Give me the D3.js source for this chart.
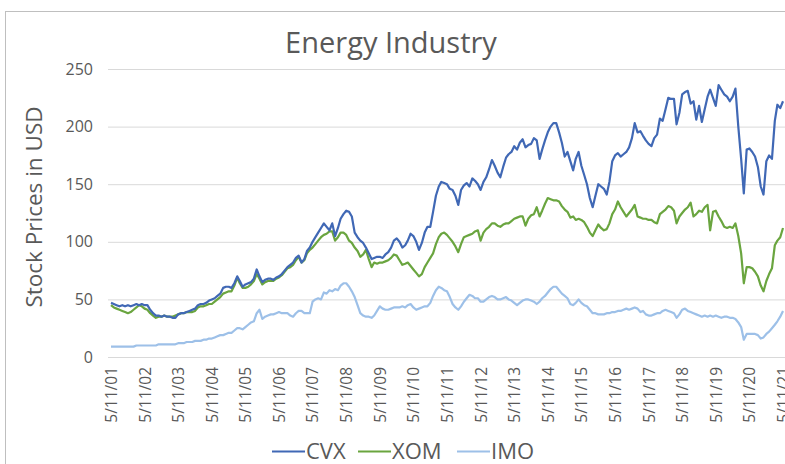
<!DOCTYPE html>
<html lang="en">
<head>
<meta charset="utf-8" />
<title>Energy Industry</title>
<style>
  body { margin: 0; background: #fff; }
  svg text { font-family: "Open Sans", "Noto Sans", sans-serif; fill: #595959; }
  .grid line { stroke: #d9d9d9; stroke-width: 1; }
  .grid path { display: none; }
</style>
<script src="https://cdn.jsdelivr.net/npm/d3@7"></script>
</head>
<body>
<script>
// monthly closes, May 2001 .. May 2021
var cvx = [
  47,46,45,44,45,44,45,44,45,46,45,46,
  45,45,41,38,36,36,35,36,35,35,34,34,
  37,38,38,39,40,41,42,45,46,46,47,49,
  50,51,53,55,60,61,61,60,64,70,66,61,
  63,64,65,68,76,70,65,67,68,68,67,69,
  70,72,75,78,80,82,86,88,82,85,92,95,
  100,104,108,112,116,113,110,116,105,112,120,124,
  127,126,122,108,104,101,99,95,90,85,86,87,
  87,86,89,91,95,101,103,100,95,97,101,107,
  105,100,93,99,108,113,113,126,140,148,152,151,
  150,146,145,140,132,145,149,151,148,155,153,150,
  145,152,156,163,171,166,160,156,165,173,176,178,
  183,180,186,189,182,184,185,190,188,172,180,188,
  195,200,203,203,195,186,174,178,170,162,172,178,
  166,158,150,138,130,140,150,148,146,141,152,170,
  175,177,174,176,178,182,190,203,195,196,192,188,
  185,183,190,193,207,205,215,225,224,224,202,212,
  228,230,231,220,222,206,218,204,215,226,232,225,
  218,236,232,228,226,222,226,233,200,172,142,180,
  181,178,174,165,148,141,170,175,172,205,219,216,222
];
var xom = [
  45,43,42,41,40,39,38,39,41,43,45,44,
  42,41,38,36,34,35,35,36,35,35,35,36,
  37,38,38,39,39,39,40,43,44,44,45,46,
  46,48,50,52,55,56,57,57,62,69,64,60,
  60,61,63,66,72,68,63,65,66,66,66,68,
  69,71,74,77,78,80,84,87,82,84,90,93,
  95,98,101,104,106,107,109,109,101,104,108,108,
  106,101,99,95,92,87,89,93,85,78,82,81,
  82,82,83,84,86,89,88,84,80,81,82,79,
  76,73,70,72,78,82,86,90,98,104,107,108,
  106,103,100,96,91,98,104,105,106,107,109,110,
  101,108,111,113,116,116,114,113,115,116,116,118,
  120,121,122,122,114,120,123,124,130,122,127,133,
  138,137,136,136,135,131,128,126,121,122,119,120,
  119,117,113,108,105,110,115,112,110,111,116,124,
  128,135,130,126,122,125,128,132,122,121,120,120,
  119,119,117,116,124,126,128,131,130,127,116,122,
  125,128,130,134,122,124,127,126,130,132,110,126,
  127,122,118,113,112,113,112,116,105,90,64,78,
  78,77,74,70,62,57,66,72,77,97,101,104,112
];
var imo = [
  9,9,9,9,9,9,9,9,9,10,10,10,
  10,10,10,10,10,11,11,11,11,11,11,11,
  12,12,12,13,13,13,14,14,14,15,15,16,
  16,17,18,19,19,20,21,21,23,25,25,24,
  26,28,30,31,38,41,33,35,36,37,37,38,
  39,38,38,38,36,35,38,40,40,38,38,38,
  48,50,51,50,56,55,58,57,59,58,62,64,
  64,61,57,52,45,38,36,35,35,34,36,40,
  44,42,41,41,42,43,43,43,44,43,45,46,
  43,41,42,43,44,44,47,53,58,61,60,58,
  57,52,46,43,41,44,48,51,54,53,51,51,
  48,48,50,52,53,52,50,50,51,52,50,49,
  47,45,47,49,50,50,49,48,46,48,51,53,
  56,59,61,61,58,55,53,51,46,45,47,50,
  47,45,44,41,38,38,37,37,37,38,38,39,
  39,40,40,41,42,41,42,43,42,39,40,37,
  36,36,37,38,38,40,41,40,39,38,34,37,
  41,42,40,39,38,37,36,35,36,35,36,35,
  36,35,34,35,35,34,34,33,30,26,15,20,
  20,20,20,19,16,17,20,22,25,28,31,35,40
];
var seriesNames = ["CVX", "XOM", "IMO"];
var colors = ["#4068b5", "#6aa53f", "#9dc0e8"];
var yTicks = [0, 50, 100, 150, 200, 250];
var tickYears = d3.range(2001, 2022);

var width = 785, height = 464;
var plotLeft = 111, plotRight = 783, plotTop = 69, plotBottom = 357;

var dates = cvx.map(function(d, i) { return new Date(2001, 4 + i, 11); });

var x = d3.scaleTime()
    .domain([new Date(2001, 4, 11), new Date(2021, 4, 11)])
    .range([plotLeft, plotRight]);
var y = d3.scaleLinear().domain([0, 250]).range([plotBottom, plotTop]);

var svg = d3.select("body").append("svg")
    .attr("width", width)
    .attr("height", height);

// chart frame
svg.append("rect")
    .attr("x", 5.5).attr("y", 11.5)
    .attr("width", 800).attr("height", 480)
    .attr("fill", "none")
    .attr("stroke", "#bfbfbf");

svg.append("text")
    .attr("x", 391).attr("y", 53)
    .attr("text-anchor", "middle")
    .style("font-size", "29px")
    .text("Energy Industry");

// gridlines + y labels
svg.append("g")
    .attr("class", "grid")
    .attr("transform", "translate(" + (plotLeft - 3) + ",0)")
    .call(d3.axisRight(y).tickValues(yTicks.slice(1)).tickSize(width - plotLeft + 3).tickFormat(""));

svg.append("g")
    .selectAll("text")
    .data(yTicks)
    .enter()
    .append("text")
    .attr("x", 93)
    .attr("y", function(d) { return y(d); })
    .attr("dy", "0.35em")
    .attr("text-anchor", "end")
    .style("font-size", "16px")
    .text(function(d) { return d; });

svg.append("text")
    .attr("transform", "translate(42," + 207 + ") rotate(-90)")
    .attr("text-anchor", "middle")
    .style("font-size", "22.5px")
    .text("Stock Prices in USD");

// x axis
var xAxis = svg.append("g")
    .attr("transform", "translate(0," + plotBottom + ")")
    .call(d3.axisBottom(x)
        .tickValues(tickYears.map(function(yr) { return new Date(yr, 4, 11); }))
        .tickSize(0)
        .tickFormat(d3.timeFormat("5/11/%y")));
xAxis.select(".domain").attr("stroke", "#d9d9d9").attr("d", "M" + (plotLeft - 3) + ",0.5H" + width);
xAxis.selectAll("text")
    .attr("transform", "rotate(-90)")
    .attr("x", -10)
    .attr("y", 0)
    .attr("dy", "0.35em")
    .attr("text-anchor", "end")
    .style("font-size", "15.5px")
    .style("font-family", "'Open Sans', sans-serif")
    .style("fill", "#595959");

// lines
var line = d3.line()
    .x(function(d, i) { return x(dates[i]); })
    .y(function(d) { return y(d); });

[imo, xom, cvx].forEach(function(s, k) {
    var idx = 2 - k;
    svg.append("path")
        .datum(s)
        .attr("fill", "none")
        .attr("stroke", colors[idx])
        .attr("stroke-width", 2.2)
        .attr("stroke-linejoin", "round")
        .attr("d", line);
});

// legend
var legendX = [272, 358, 457];
var lg = svg.append("g");
seriesNames.forEach(function(n, i) {
    lg.append("line")
        .attr("x1", legendX[i]).attr("x2", legendX[i] + 33)
        .attr("y1", 451.5).attr("y2", 451.5)
        .attr("stroke", colors[i])
        .attr("stroke-width", 2.2);
    lg.append("text")
        .attr("x", legendX[i] + 34).attr("y", 459)
        .style("font-size", "22px")
        .text(n);
});
</script>
</body>
</html>
